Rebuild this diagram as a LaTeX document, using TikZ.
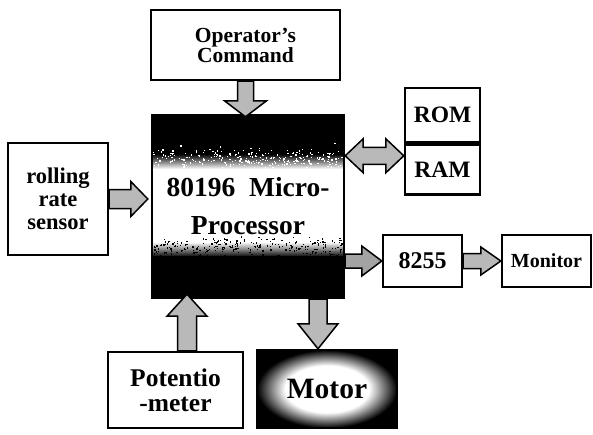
\documentclass[tikz,border=0pt]{standalone}
\usepackage{fontspec}
\setmainfont{Liberation Serif}
\usetikzlibrary{calc}
\pgfdeclareradialshading{motorshade}{\pgfpoint{0bp}{0bp}}{color(0bp)=(white); color(15bp)=(white); color(25bp)=(black); color(50bp)=(black)}
\tikzset{
  box/.style={draw=black, line width=2.4pt, fill=white, align=center, font=\bfseries, inner sep=0pt},
  arrowbody/.style={draw=black, line width=1.5pt, fill=gray!55, line join=miter},
}
% single block arrow: [style]{from}{to}{shaft half}{head half}{head length}
\newcommand\blockarrow[6][]{%
  \draw[arrowbody,#1] let \p1=(#2), \p2=(#3), \n1={atan2(\y2-\y1,\x2-\x1)}, \n2={veclen(\x2-\x1,\y2-\y1)} in
  [shift={(\p1)}, rotate=\n1]
  (0pt,-#4) -- ({\n2-#6},-#4) -- ({\n2-#6},-#5) -- ({\n2+0pt},0pt) -- ({\n2-#6},#5) -- ({\n2-#6},#4) -- (0pt,#4) -- cycle;}
% double block arrow
\newcommand\dblockarrow[6][]{%
  \draw[arrowbody,#1] let \p1=(#2), \p2=(#3), \n1={atan2(\y2-\y1,\x2-\x1)}, \n2={veclen(\x2-\x1,\y2-\y1)} in
  [shift={(\p1)}, rotate=\n1]
  (0pt,0pt) -- (#6,-#5) -- (#6,-#4) -- ({\n2-#6},-#4) -- ({\n2-#6},-#5) -- ({\n2+0pt},0pt) -- ({\n2-#6},#5) -- ({\n2-#6},#4) -- (#6,#4) -- (#6,#5) -- cycle;}
\begin{document}
\begin{tikzpicture}[x=1pt,y=-1pt]
\useasboundingbox (0,0) rectangle (593,434);
\pgfmathsetseed{4711}
% boxes
\node[box, minimum width=189pt, minimum height=70pt, font=\bfseries\fontsize{21.5}{20}\selectfont] (op) at (245.5,45) {Operator's\\Command};
\node[box, minimum width=192pt, minimum height=183pt, font=\bfseries\fontsize{27.5}{38}\selectfont,
  path picture={
    \fill[black] (path picture bounding box.north west) rectangle ($(path picture bounding box.north east)+(0pt,-40pt)$);
    \shade[top color=black, bottom color=white] ($(path picture bounding box.north west)+(0pt,-39pt)$) rectangle ($(path picture bounding box.north east)+(0pt,-54pt)$);
    \shade[top color=white, bottom color=black] ($(path picture bounding box.south west)+(0pt,56pt)$) rectangle ($(path picture bounding box.south east)+(0pt,41pt)$);
    \fill[black] (path picture bounding box.south west) rectangle ($(path picture bounding box.south east)+(0pt,42pt)$);
    \foreach \k in {1,...,260}{
      \pgfmathsetmacro\rx{rnd*190}
      \pgfmathsetmacro\ry{(rnd+rnd+rnd)/3*30-15}
      \fill[white] ($(path picture bounding box.north west)+(\rx pt,{-(44+\ry)*1pt})$) rectangle +(1.3pt,1.3pt);
      \pgfmathsetmacro\sx{rnd*190}
      \pgfmathsetmacro\sy{(rnd+rnd+rnd)/3*30-15}
      \fill[black] ($(path picture bounding box.south west)+(\sx pt,{(50+\sy)*1pt})$) rectangle +(1.3pt,1.3pt);
    }
  }] (mp) at (248,206.5) {80196\ \ Micro-\\Processor};
\node[box, minimum width=100pt, minimum height=112pt, font=\bfseries\fontsize{22.5}{23}\selectfont] (sens) at (58,199) {rolling\\rate\\sensor};
\node[box, minimum width=75pt, minimum height=54pt, font=\bfseries\fontsize{23.5}{22}\selectfont] (rom) at (442.5,115) {ROM};
\node[box, minimum width=75pt, minimum height=50pt, font=\bfseries\fontsize{23.5}{22}\selectfont, anchor=north] (ram) at (rom.south) {RAM};
\node[box, minimum width=79pt, minimum height=52pt, font=\bfseries\fontsize{24}{23}\selectfont] (i8255) at (422.5,261) {8255};
\node[box, minimum width=89pt, minimum height=52pt, font=\bfseries\fontsize{20}{19}\selectfont] (mon) at (546.5,261) {Monitor};
\node[box, minimum width=135pt, minimum height=76pt, font=\bfseries\fontsize{25.5}{25}\selectfont] (pot) at (175.5,390) {Potentio\\-meter};
\node[box, minimum width=140pt, minimum height=78pt, font=\bfseries\fontsize{29.5}{29}\selectfont,
  path picture={\shade[shading=motorshade] (path picture bounding box.south west) rectangle (path picture bounding box.north east);}] (motor) at (327,389) {Motor};
% connector end points
\coordinate (opout) at (op.south);
\coordinate (mpin1) at ($(op.south |- mp.north)+(0pt,-3pt)$);
\coordinate (sensout) at (sens.east);
\coordinate (mpin2) at ($(sens.east -| mp.west)+(-3pt,0pt)$);
\coordinate (memport) at ($(ram.north west)!0.24!(ram.south west)$);
\coordinate (mpmem) at (memport -| mp.east);
\coordinate (mpio) at (mp.east |- i8255.west);
\coordinate (potout) at ($(pot.north)+(11.5pt,0pt)$);
\coordinate (mpin3) at ($(potout |- mp.south)+(0pt,5pt)$);
\coordinate (motin) at ($(motor.north)+(-9pt,0pt)$);
\coordinate (mpout) at (motin |- mp.south);
% connectors
\blockarrow{opout}{mpin1}{8pt}{21pt}{16pt}
\blockarrow{sensout}{mpin2}{9.5pt}{17.5pt}{17pt}
\dblockarrow{mpmem}{memport}{8.5pt}{17pt}{18pt}
\blockarrow[fill=gray!72]{mpio}{i8255.west}{7pt}{15pt}{20pt}
\blockarrow{i8255.east}{mon.west}{7.5pt}{14pt}{20pt}
\blockarrow{potout}{mpin3}{9.5pt}{20pt}{22pt}
\blockarrow{mpout}{motin}{9pt}{20pt}{25pt}
\end{tikzpicture}
\end{document}
